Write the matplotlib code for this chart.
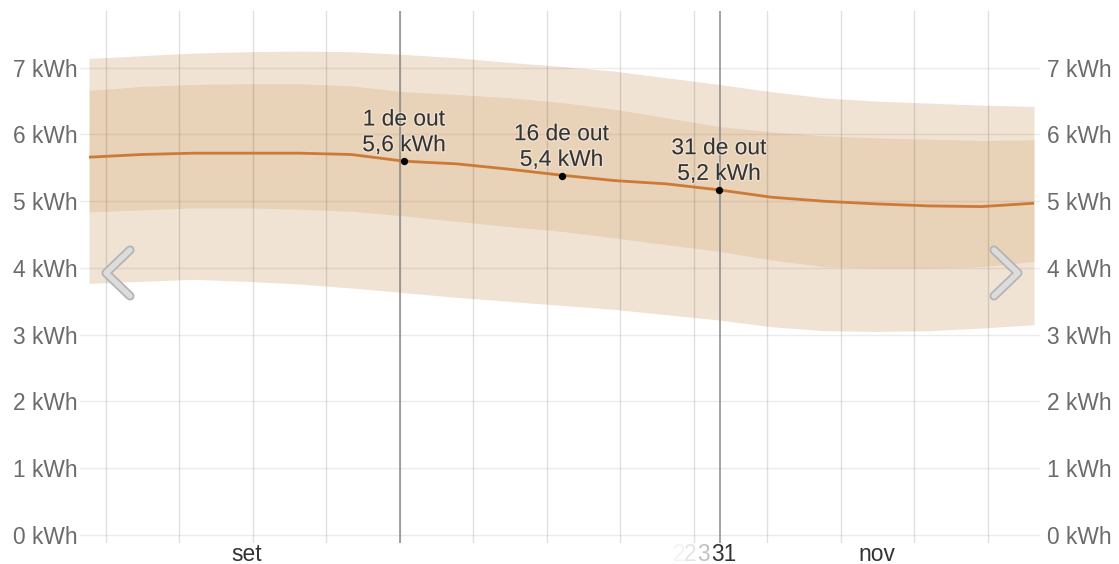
import numpy as np
import matplotlib.pyplot as plt
import matplotlib.patheffects as pe
from matplotlib.lines import Line2D

plt.rcParams['font.family'] = ['Liberation Sans', 'DejaVu Sans']

# days relative to 1 de out
days = [-30, -25, -20, -15, -10, -5, 0, 5, 10, 15, 20, 25, 30, 35, 40, 45, 50, 55, 60]
median = [5.66, 5.70, 5.72, 5.72, 5.72, 5.70, 5.60, 5.56, 5.48, 5.39, 5.31, 5.26, 5.17,
          5.06, 5.00, 4.96, 4.93, 4.92, 4.97]
inner_hi = [6.66, 6.72, 6.75, 6.76, 6.76, 6.73, 6.64, 6.60, 6.55, 6.48, 6.38, 6.25, 6.12,
            6.04, 5.98, 5.95, 5.93, 5.91, 5.92]
inner_lo = [4.84, 4.87, 4.90, 4.90, 4.88, 4.85, 4.78, 4.70, 4.62, 4.55, 4.45, 4.35, 4.25,
            4.12, 4.02, 4.00, 4.00, 4.02, 4.10]
outer_hi = [7.14, 7.18, 7.22, 7.24, 7.25, 7.24, 7.20, 7.15, 7.08, 7.02, 6.95, 6.85, 6.75,
            6.64, 6.55, 6.50, 6.47, 6.44, 6.42]
outer_lo = [3.77, 3.80, 3.83, 3.80, 3.76, 3.70, 3.63, 3.56, 3.50, 3.44, 3.38, 3.30, 3.22,
            3.12, 3.06, 3.05, 3.06, 3.10, 3.15]

note_days = [0, 15, 30]
note_vals = [5.6, 5.38, 5.17]
note_labels = ['1 de out\n5,6 kWh', '16 de out\n5,4 kWh', '31 de out\n5,2 kWh']

month_days = [-15, 30.5, 45]
month_labels = ['set', '31', 'nov']

yticks = [0, 1, 2, 3, 4, 5, 6, 7]
ylabels = ['%d kWh' % v for v in yticks]

W, H = 1119, 564
fig = plt.figure(figsize=(W / 100, H / 100), dpi=100)
ax = fig.add_axes([80 / W, 21 / H, 960 / W, 532 / H])
ax.set_xlim(-30.857, 60.571)
ax.set_ylim(-0.12, 7.85)

band = '#b97323'
ax.fill_between(days, outer_lo, outer_hi, color=band, alpha=0.2, lw=0, zorder=2)
ax.fill_between(days, inner_lo, inner_hi, color=band, alpha=0.15, lw=0, zorder=3)
ax.plot(days, median, color='#cc7a36', lw=2.0, zorder=5, solid_capstyle='butt')

# weekly grid + highlighted lines
for d in np.arange(-28, 57, 7) - 0.4:
    ax.axvline(d, color='black', alpha=0.12, lw=1, zorder=4)
for d in [-0.4, 30.1]:
    ax.axvline(d, color='#8a8a8a', lw=1.1, zorder=4)

ax.set_yticks(yticks)
ax.set_yticklabels(ylabels)
ax.grid(axis='y', color='#ececec', lw=1, zorder=0)
ax.set_axisbelow(True)
ax.tick_params(axis='y', length=0, labelsize=16.4, labelcolor='#6b6b6b', pad=2,
               left=False, right=False, labelleft=True, labelright=True)
ax.set_xticks([])
for s in ax.spines.values():
    s.set_visible(False)

# right labels a bit further out
for t in ax.yaxis.get_major_ticks():
    t.label2.set_x(1.0 + 4 / 960)

# month labels
tr = ax.get_xaxis_transform()
for d, lab in zip(month_days, month_labels):
    ax.text(d, -18 / 532, lab, transform=tr, ha='center', va='baseline',
            fontsize=16.4, color='#333333')
# fading ghost digits
for d, lab, a in [(26.2, '2', 0.06), (27.3, '2', 0.13), (28.5, '3', 0.3)]:
    ax.text(d, -18 / 532, lab, transform=tr, ha='center', va='baseline',
            fontsize=16.4, color='#333333', alpha=a)

# annotated points
ax.scatter(note_days, note_vals, s=18, color='black', zorder=6)
for d, v, lab in zip(note_days, note_vals, note_labels):
    ax.annotate(lab, (d, v), xytext=(0, 5), textcoords='offset pixels',
                ha='center', va='bottom', fontsize=16.4, color='#333333',
                linespacing=1.15, zorder=7,
                path_effects=[pe.withStroke(linewidth=2, foreground='white', alpha=0.35)])

# navigation chevrons
def chevron(pts):
    xs = [p[0] / W for p in pts]
    ys = [1 - p[1] / H for p in pts]
    fig.add_artist(Line2D(xs, ys, transform=fig.transFigure, color='#b3b3b3', lw=6.5,
                          solid_capstyle='round', solid_joinstyle='round', zorder=10))
    fig.add_artist(Line2D(xs, ys, transform=fig.transFigure, color='#dcdcdc', lw=4.0,
                          solid_capstyle='round', solid_joinstyle='round', zorder=11))

chevron([(130, 250), (106, 273), (130, 296)])
chevron([(994, 250), (1018, 273), (994, 296)])

fig.savefig('out.png', dpi=100)
